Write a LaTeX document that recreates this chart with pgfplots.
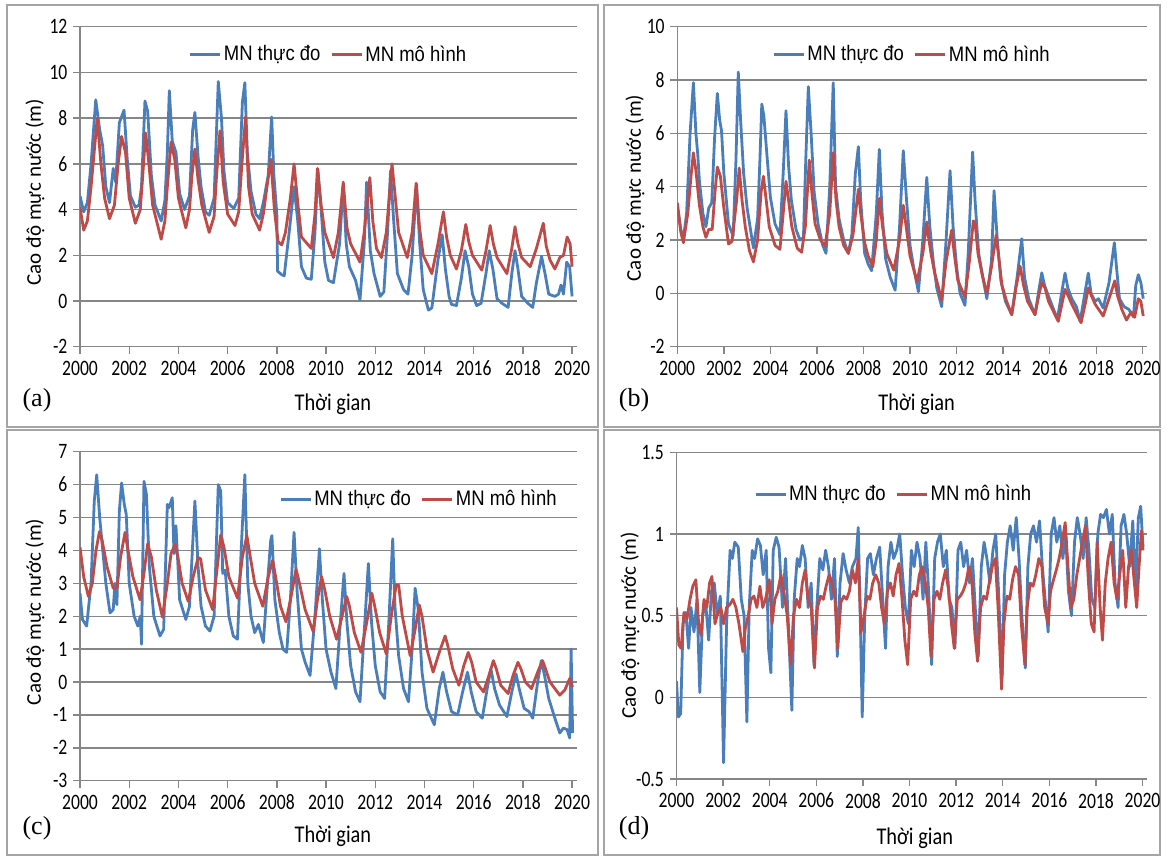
\documentclass[border=0pt]{standalone}
\usepackage{pgfplots}
\pgfplotsset{compat=1.18}
\usepackage{pgfplotstable}
\usepackage{fontspec}
\setmainfont{Carlito}
\newfontfamily\legfont{Liberation Sans}
\newfontfamily\tagfont{Liberation Serif}

\definecolor{mblue}{RGB}{74,126,187}
\definecolor{mred}{RGB}{190,75,72}
\definecolor{gridgray}{RGB}{134,134,134}
\definecolor{framegray}{RGB}{165,165,165}

% (a) station 1
\pgfplotstableread{
x y
2000.00 4.6
2000.15 3.9
2000.30 4.3
2000.45 6.0
2000.64 8.8
2000.80 7.5
2000.92 6.8
2001.05 5.0
2001.20 4.3
2001.35 5.8
2001.45 5.2
2001.60 7.8
2001.79 8.35
2001.92 6.2
2002.05 4.6
2002.25 4.1
2002.40 4.2
2002.50 5.0
2002.64 8.75
2002.75 8.3
2002.90 5.5
2003.05 4.2
2003.30 3.5
2003.45 4.4
2003.55 6.5
2003.63 9.2
2003.75 7.0
2003.90 6.5
2004.05 4.7
2004.25 4.0
2004.45 4.6
2004.58 7.5
2004.67 8.25
2004.80 6.3
2004.92 5.0
2005.10 3.9
2005.25 3.75
2005.45 4.5
2005.55 7.5
2005.62 9.6
2005.75 8.0
2005.85 5.7
2006.00 4.3
2006.25 4.05
2006.45 4.5
2006.60 8.7
2006.70 9.55
2006.80 6.5
2006.95 4.8
2007.15 3.8
2007.30 3.6
2007.45 4.3
2007.65 5.5
2007.79 8.05
2007.88 5.5
2008.00 3.8
2008.03 1.3
2008.20 1.15
2008.30 1.1
2008.50 3.0
2008.70 5.0
2008.85 3.5
2009.00 1.5
2009.20 1.0
2009.40 0.95
2009.55 3.0
2009.67 5.75
2009.80 4.0
2009.95 1.7
2010.10 0.9
2010.30 0.8
2010.55 2.5
2010.70 5.1
2010.82 2.5
2010.95 1.5
2011.20 0.9
2011.38 0.05
2011.55 2.5
2011.65 5.2
2011.80 2.2
2011.95 1.2
2012.20 0.2
2012.35 0.4
2012.50 3.0
2012.62 5.7
2012.75 3.5
2012.90 1.2
2013.15 0.5
2013.33 0.3
2013.50 2.0
2013.68 5.1
2013.80 2.6
2013.95 0.5
2014.16 -0.4
2014.30 -0.3
2014.55 1.8
2014.72 2.9
2014.85 1.4
2015.00 0.2
2015.10 -0.15
2015.30 -0.2
2015.50 1.0
2015.65 2.2
2015.80 1.5
2015.95 0.3
2016.12 -0.2
2016.30 -0.1
2016.50 1.2
2016.63 2.2
2016.78 1.4
2016.95 0.1
2017.15 -0.1
2017.40 -0.28
2017.55 1.2
2017.68 2.2
2017.80 1.4
2017.95 0.2
2018.20 -0.1
2018.40 -0.28
2018.55 0.8
2018.76 1.95
2018.90 1.2
2019.05 0.3
2019.30 0.2
2019.45 0.3
2019.55 0.7
2019.65 0.3
2019.78 1.7
2019.90 1.5
2020.00 0.2
}\obsA
\pgfplotstableread{
x y
2000.00 4.1
2000.15 3.1
2000.30 3.5
2000.45 5.0
2000.70 8.0
2000.85 6.0
2001.00 4.5
2001.20 3.6
2001.40 4.2
2001.55 6.0
2001.69 7.2
2001.85 6.5
2002.00 4.5
2002.25 3.4
2002.45 4.0
2002.55 5.5
2002.67 7.35
2002.80 6.0
2002.95 4.2
2003.30 2.7
2003.45 3.5
2003.55 5.0
2003.70 6.95
2003.85 6.2
2004.00 4.5
2004.30 3.2
2004.45 4.0
2004.55 5.5
2004.67 6.65
2004.80 5.3
2004.95 4.2
2005.25 3.0
2005.45 3.7
2005.55 5.5
2005.69 7.45
2005.82 5.2
2006.00 3.8
2006.30 3.3
2006.45 3.9
2006.58 6.0
2006.73 8.05
2006.85 5.0
2007.00 3.8
2007.30 3.1
2007.45 3.8
2007.60 5.0
2007.76 6.2
2007.90 4.0
2008.05 2.6
2008.20 2.45
2008.35 3.0
2008.55 4.5
2008.70 6.0
2008.85 4.3
2009.00 2.8
2009.40 2.3
2009.55 3.8
2009.65 5.8
2009.80 4.2
2009.95 3.0
2010.30 1.9
2010.50 3.0
2010.70 5.2
2010.85 3.2
2011.00 2.5
2011.38 1.7
2011.55 3.0
2011.78 5.4
2011.90 3.5
2012.05 2.3
2012.25 1.9
2012.45 3.0
2012.68 6.0
2012.80 4.7
2012.95 3.0
2013.30 1.9
2013.50 3.0
2013.66 5.15
2013.80 3.2
2013.95 2.0
2014.30 1.2
2014.55 2.5
2014.77 3.9
2014.90 2.8
2015.05 2.0
2015.30 1.4
2015.50 2.2
2015.68 3.35
2015.80 2.6
2015.95 2.0
2016.33 1.35
2016.50 2.2
2016.67 3.3
2016.80 2.5
2016.95 1.9
2017.35 1.2
2017.55 2.3
2017.68 3.25
2017.80 2.5
2017.95 1.9
2018.30 1.5
2018.55 2.3
2018.83 3.4
2018.95 2.4
2019.10 1.8
2019.30 1.4
2019.50 1.9
2019.65 2.0
2019.80 2.8
2019.92 2.5
2020.00 1.5
}\modA

% (b) station 2
\pgfplotstableread{
x y
2000.00 3.3
2000.15 2.4
2000.26 2.05
2000.40 3.0
2000.55 6.0
2000.69 7.9
2000.80 6.0
2000.88 5.2
2000.95 4.2
2001.10 3.0
2001.23 2.5
2001.35 3.2
2001.48 3.4
2001.60 5.8
2001.72 7.5
2001.82 6.5
2001.90 6.1
2002.00 4.5
2002.20 2.6
2002.40 2.15
2002.52 5.0
2002.62 8.3
2002.72 6.5
2002.85 4.5
2003.00 3.2
2003.27 1.7
2003.45 2.8
2003.55 5.0
2003.63 7.1
2003.72 6.65
2003.85 5.2
2004.00 3.6
2004.20 2.6
2004.41 2.2
2004.55 4.5
2004.67 6.85
2004.78 4.8
2004.90 3.5
2005.10 2.4
2005.27 2.0
2005.42 2.1
2005.52 5.0
2005.63 7.75
2005.75 6.0
2005.88 3.8
2006.05 2.6
2006.25 1.8
2006.39 1.5
2006.55 4.0
2006.70 7.9
2006.80 4.0
2006.95 2.8
2007.15 2.0
2007.35 1.5
2007.50 2.2
2007.65 4.5
2007.78 5.5
2007.88 3.5
2008.05 1.5
2008.20 1.1
2008.35 0.85
2008.55 3.0
2008.68 5.4
2008.80 3.0
2008.95 1.3
2009.15 0.6
2009.36 0.12
2009.55 2.5
2009.71 5.35
2009.85 3.5
2010.00 1.8
2010.15 1.0
2010.36 0.06
2010.55 2.0
2010.72 4.35
2010.85 2.5
2011.00 1.2
2011.15 0.2
2011.36 -0.5
2011.55 2.0
2011.72 4.6
2011.85 2.5
2012.00 1.0
2012.15 0.0
2012.36 -0.45
2012.50 1.5
2012.69 5.3
2012.80 3.4
2012.95 1.5
2013.15 0.5
2013.30 -0.2
2013.50 1.2
2013.61 3.85
2013.75 2.0
2013.90 0.5
2014.10 -0.3
2014.37 -0.8
2014.60 0.6
2014.80 2.05
2014.92 0.6
2015.10 -0.2
2015.37 -0.8
2015.55 0.2
2015.66 0.77
2015.78 0.3
2015.95 -0.1
2016.33 -0.97
2016.55 0.2
2016.66 0.76
2016.78 0.2
2016.95 -0.2
2017.15 -0.5
2017.31 -1.05
2017.55 0.2
2017.66 0.76
2017.78 0.0
2017.95 -0.3
2018.10 -0.2
2018.30 -0.55
2018.55 0.4
2018.78 1.9
2018.88 0.9
2019.00 -0.2
2019.20 -0.5
2019.40 -0.6
2019.60 -0.88
2019.70 0.3
2019.81 0.7
2019.92 0.4
2020.02 -0.2
}\obsB
\pgfplotstableread{
x y
2000.00 3.4
2000.15 2.3
2000.26 1.9
2000.45 3.0
2000.60 4.5
2000.69 5.27
2000.80 4.6
2000.95 3.3
2001.10 2.5
2001.23 2.1
2001.35 2.4
2001.50 2.4
2001.62 3.8
2001.72 4.74
2001.85 4.4
2002.00 3.2
2002.20 1.85
2002.35 1.95
2002.55 3.5
2002.66 4.7
2002.78 3.5
2002.92 2.5
2003.10 1.6
2003.27 1.18
2003.45 2.0
2003.60 3.8
2003.70 4.39
2003.82 3.5
2003.95 2.5
2004.20 1.8
2004.41 1.65
2004.55 3.0
2004.67 4.2
2004.78 3.5
2004.92 2.5
2005.15 1.7
2005.34 1.54
2005.50 2.5
2005.67 5.0
2005.78 3.8
2005.92 2.6
2006.15 2.0
2006.35 1.77
2006.55 3.0
2006.70 5.27
2006.82 3.5
2006.95 2.5
2007.15 1.8
2007.35 1.5
2007.55 2.2
2007.78 3.9
2007.88 3.0
2008.05 1.9
2008.20 1.4
2008.40 1.0
2008.55 2.0
2008.68 3.56
2008.82 2.5
2009.00 1.5
2009.30 0.87
2009.55 2.0
2009.71 3.3
2009.85 2.4
2010.00 1.4
2010.30 0.44
2010.55 1.5
2010.72 2.68
2010.78 2.2
2010.90 1.5
2011.05 0.8
2011.36 -0.25
2011.55 1.2
2011.79 2.37
2011.90 1.5
2012.05 0.5
2012.36 -0.15
2012.55 1.2
2012.72 2.72
2012.80 2.6
2012.92 1.5
2013.10 0.7
2013.30 0.0
2013.50 1.0
2013.70 2.18
2013.82 1.3
2013.95 0.3
2014.15 -0.3
2014.37 -0.8
2014.55 0.2
2014.73 1.02
2014.88 0.3
2015.05 -0.3
2015.37 -0.8
2015.55 0.0
2015.66 0.4
2015.80 0.2
2015.95 -0.3
2016.37 -1.05
2016.55 -0.3
2016.66 0.15
2016.80 -0.1
2016.95 -0.4
2017.35 -1.1
2017.55 -0.3
2017.66 0.2
2017.80 -0.1
2017.95 -0.4
2018.30 -0.85
2018.55 -0.2
2018.80 0.47
2018.92 -0.1
2019.10 -0.6
2019.30 -1.0
2019.50 -0.7
2019.65 -0.9
2019.81 -0.2
2019.92 -0.3
2020.02 -0.85
}\modB

% (c) station 3
\pgfplotstableread{
x y
2000.00 2.7
2000.10 1.9
2000.27 1.7
2000.45 3.0
2000.58 5.5
2000.68 6.3
2000.80 5.0
2000.90 4.2
2001.05 3.0
2001.22 2.1
2001.35 2.2
2001.42 3.0
2001.50 2.35
2001.60 5.2
2001.69 6.05
2001.80 5.4
2001.88 5.1
2002.00 3.0
2002.20 2.0
2002.35 1.7
2002.45 2.0
2002.50 1.15
2002.60 6.1
2002.70 5.7
2002.82 3.5
2003.00 2.0
2003.25 1.4
2003.40 1.6
2003.55 5.4
2003.62 5.3
2003.75 5.6
2003.82 3.9
2003.90 4.75
2004.05 2.5
2004.30 1.9
2004.45 2.3
2004.67 5.5
2004.80 3.5
2004.92 2.3
2005.10 1.7
2005.28 1.55
2005.45 2.0
2005.62 6.0
2005.72 5.8
2005.80 3.3
2005.90 3.4
2006.05 2.0
2006.23 1.4
2006.40 1.3
2006.55 4.0
2006.70 6.3
2006.82 3.0
2006.95 2.0
2007.10 1.5
2007.25 1.75
2007.45 1.2
2007.62 3.0
2007.75 4.3
2007.80 4.45
2007.92 2.5
2008.10 1.5
2008.25 1.0
2008.40 0.9
2008.55 2.5
2008.70 4.55
2008.82 2.8
2009.00 1.0
2009.15 0.6
2009.35 0.2
2009.55 2.0
2009.73 4.05
2009.85 2.5
2010.00 1.0
2010.20 0.3
2010.40 -0.2
2010.55 1.5
2010.73 3.3
2010.85 1.8
2011.00 0.5
2011.20 -0.3
2011.38 -0.6
2011.55 1.5
2011.72 3.6
2011.85 1.8
2012.00 0.5
2012.20 -0.3
2012.38 -0.5
2012.55 1.8
2012.71 4.35
2012.80 2.3
2012.95 0.8
2013.15 -0.2
2013.35 -0.6
2013.50 1.0
2013.62 2.85
2013.75 2.2
2013.90 0.3
2014.10 -0.8
2014.40 -1.3
2014.60 -0.2
2014.75 0.3
2014.90 -0.3
2015.10 -0.9
2015.35 -1.0
2015.55 -0.3
2015.75 0.3
2015.90 -0.3
2016.10 -0.9
2016.35 -1.1
2016.55 -0.2
2016.70 0.4
2016.85 -0.2
2017.05 -0.7
2017.35 -1.05
2017.55 -0.3
2017.72 0.25
2017.85 -0.2
2018.05 -0.8
2018.25 -0.9
2018.40 -1.1
2018.60 0.0
2018.75 0.65
2018.88 0.2
2019.05 -0.5
2019.30 -1.1
2019.50 -1.55
2019.65 -1.4
2019.80 -1.45
2019.90 -1.7
2019.96 1.0
2020.02 -1.55
}\obsC
\pgfplotstableread{
x y
2000.00 4.1
2000.15 3.2
2000.34 2.6
2000.50 3.0
2000.65 4.0
2000.79 4.57
2000.90 4.3
2001.10 3.5
2001.35 2.85
2001.50 2.85
2001.65 3.8
2001.83 4.55
2001.95 4.0
2002.15 3.2
2002.44 2.5
2002.60 3.3
2002.75 4.2
2002.90 3.8
2003.10 2.8
2003.35 1.97
2003.55 3.0
2003.70 3.9
2003.86 4.18
2003.98 3.8
2004.15 3.0
2004.40 2.45
2004.60 3.2
2004.80 3.78
2004.90 3.75
2005.10 2.8
2005.39 2.2
2005.55 3.3
2005.72 4.47
2005.85 4.1
2006.05 3.2
2006.40 2.55
2006.60 3.8
2006.78 4.45
2006.90 3.9
2007.10 3.0
2007.43 2.3
2007.65 3.2
2007.83 3.7
2007.95 3.2
2008.15 2.3
2008.37 1.83
2008.58 2.6
2008.78 3.43
2008.92 3.0
2009.15 2.2
2009.48 1.53
2009.65 2.5
2009.82 3.2
2009.95 2.8
2010.15 2.0
2010.43 1.3
2010.65 2.0
2010.84 2.6
2010.95 2.3
2011.15 1.5
2011.42 0.9
2011.65 1.8
2011.86 2.7
2011.98 2.3
2012.18 1.5
2012.45 0.85
2012.65 2.0
2012.85 2.95
2012.95 2.95
2013.10 2.0
2013.42 0.8
2013.62 1.6
2013.79 2.34
2013.90 2.0
2014.10 1.0
2014.35 0.3
2014.60 0.9
2014.84 1.4
2014.95 1.1
2015.15 0.4
2015.40 -0.1
2015.60 0.5
2015.78 0.9
2015.92 0.6
2016.10 0.0
2016.40 -0.3
2016.62 0.2
2016.80 0.65
2016.92 0.4
2017.10 -0.1
2017.40 -0.35
2017.60 0.2
2017.80 0.6
2017.92 0.4
2018.10 0.0
2018.35 -0.2
2018.60 0.3
2018.80 0.65
2018.92 0.4
2019.10 0.0
2019.50 -0.4
2019.70 -0.25
2019.90 0.1
2020.02 -0.15
}\modC

% (d) station 4
\pgfplotstableread{
x y
2000.00 0.10
2000.08 -0.12
2000.18 -0.10
2000.28 0.45
2000.40 0.52
2000.52 0.30
2000.62 0.55
2000.75 0.40
2000.88 0.60
2001.00 0.03
2001.12 0.50
2001.25 0.58
2001.38 0.35
2001.50 0.65
2001.62 0.70
2001.75 0.50
2001.88 0.62
2002.02 -0.40
2002.15 0.45
2002.30 0.90
2002.40 0.85
2002.50 0.95
2002.65 0.92
2002.78 0.60
2002.90 0.50
2003.02 -0.15
2003.12 0.55
2003.25 0.90
2003.35 0.85
2003.48 0.97
2003.60 0.93
2003.72 0.75
2003.85 0.90
2003.95 0.30
2004.05 0.15
2004.15 0.90
2004.28 0.98
2004.40 0.92
2004.55 0.55
2004.68 0.85
2004.80 0.45
2004.95 -0.08
2005.05 0.60
2005.18 0.85
2005.28 0.80
2005.40 0.93
2005.52 0.85
2005.65 0.55
2005.78 0.70
2005.90 0.20
2006.02 0.55
2006.15 0.85
2006.28 0.78
2006.40 0.90
2006.52 0.80
2006.65 0.60
2006.78 0.85
2006.90 0.25
2007.02 0.70
2007.15 0.88
2007.28 0.78
2007.42 0.70
2007.55 0.80
2007.70 0.85
2007.80 1.04
2007.90 0.40
2007.97 -0.12
2008.08 0.50
2008.20 0.85
2008.32 0.88
2008.45 0.75
2008.58 0.85
2008.72 0.92
2008.85 0.60
2008.97 0.30
2009.08 0.80
2009.20 0.95
2009.32 0.85
2009.45 0.90
2009.58 1.00
2009.70 0.75
2009.82 0.55
2009.95 0.45
2010.08 0.90
2010.20 0.80
2010.32 0.95
2010.45 0.85
2010.58 0.60
2010.70 0.95
2010.82 0.65
2010.95 0.20
2011.08 0.85
2011.20 0.95
2011.32 1.00
2011.45 0.80
2011.58 0.90
2011.70 0.60
2011.82 0.55
2011.95 0.30
2012.08 0.90
2012.20 0.95
2012.32 0.80
2012.45 0.90
2012.58 0.70
2012.70 0.85
2012.82 0.55
2012.95 0.25
2013.08 0.80
2013.20 0.95
2013.32 0.85
2013.45 0.70
2013.58 0.90
2013.70 1.00
2013.82 0.65
2013.97 0.12
2014.08 0.75
2014.20 0.95
2014.32 1.05
2014.45 0.90
2014.58 1.10
2014.70 0.85
2014.82 0.50
2014.97 0.18
2015.08 0.80
2015.20 1.00
2015.32 1.05
2015.45 0.95
2015.58 1.08
2015.70 0.80
2015.82 0.60
2015.95 0.40
2016.08 1.00
2016.20 1.10
2016.32 0.95
2016.45 1.05
2016.58 0.85
2016.70 1.00
2016.82 0.65
2016.95 0.50
2017.08 0.95
2017.20 1.10
2017.32 1.00
2017.45 0.85
2017.58 1.10
2017.70 0.90
2017.82 0.60
2017.95 0.55
2018.08 1.00
2018.20 1.12
2018.32 1.10
2018.45 1.15
2018.58 1.00
2018.70 1.12
2018.82 0.70
2018.95 0.55
2019.08 1.05
2019.20 1.12
2019.32 1.00
2019.45 0.80
2019.58 1.08
2019.70 0.65
2019.82 1.10
2019.92 1.17
2020.02 0.92
}\obsD
\pgfplotstableread{
x y
2000.00 0.55
2000.10 0.32
2000.20 0.30
2000.32 0.52
2000.45 0.48
2000.58 0.60
2000.70 0.68
2000.83 0.72
2000.95 0.45
2001.05 0.38
2001.18 0.60
2001.30 0.55
2001.42 0.70
2001.52 0.74
2001.65 0.45
2001.78 0.52
2001.90 0.55
2002.02 0.45
2002.15 0.55
2002.30 0.57
2002.42 0.60
2002.55 0.55
2002.68 0.45
2002.85 0.28
2002.95 0.42
2003.08 0.50
2003.20 0.60
2003.32 0.62
2003.45 0.55
2003.58 0.68
2003.70 0.55
2003.82 0.60
2003.98 0.72
2004.10 0.45
2004.22 0.60
2004.35 0.65
2004.48 0.75
2004.60 0.65
2004.75 0.50
2004.90 0.20
2005.02 0.50
2005.15 0.60
2005.28 0.55
2005.40 0.70
2005.52 0.78
2005.65 0.60
2005.78 0.55
2005.92 0.18
2006.05 0.55
2006.18 0.62
2006.30 0.60
2006.42 0.68
2006.55 0.75
2006.68 0.70
2006.80 0.60
2006.92 0.30
2007.05 0.58
2007.18 0.62
2007.30 0.60
2007.42 0.65
2007.55 0.78
2007.68 0.70
2007.80 0.85
2007.92 0.40
2008.05 0.50
2008.18 0.62
2008.30 0.60
2008.42 0.70
2008.55 0.75
2008.68 0.70
2008.80 0.55
2008.92 0.45
2009.05 0.65
2009.18 0.70
2009.30 0.62
2009.42 0.75
2009.55 0.82
2009.68 0.60
2009.80 0.35
2009.92 0.20
2010.05 0.60
2010.18 0.65
2010.30 0.62
2010.42 0.75
2010.55 0.80
2010.68 0.70
2010.80 0.55
2010.92 0.25
2011.05 0.60
2011.18 0.65
2011.30 0.60
2011.42 0.70
2011.55 0.78
2011.68 0.65
2011.80 0.45
2011.92 0.30
2012.05 0.60
2012.18 0.62
2012.30 0.65
2012.42 0.70
2012.55 0.80
2012.68 0.70
2012.80 0.40
2012.92 0.22
2013.05 0.55
2013.18 0.62
2013.30 0.60
2013.42 0.70
2013.55 0.80
2013.68 0.85
2013.80 0.55
2013.95 0.05
2014.05 0.45
2014.18 0.62
2014.30 0.60
2014.42 0.72
2014.55 0.80
2014.68 0.75
2014.80 0.45
2014.95 0.20
2015.05 0.55
2015.18 0.70
2015.30 0.68
2015.42 0.75
2015.55 0.85
2015.68 0.80
2015.80 0.55
2015.95 0.45
2016.05 0.65
2016.18 0.72
2016.30 0.78
2016.42 0.85
2016.55 0.95
2016.68 1.07
2016.80 0.80
2016.92 0.55
2017.05 0.60
2017.18 0.75
2017.30 0.85
2017.42 0.95
2017.55 1.05
2017.68 0.70
2017.80 0.45
2017.92 0.40
2018.05 0.95
2018.18 0.55
2018.28 0.35
2018.40 0.70
2018.52 0.85
2018.65 0.95
2018.78 0.70
2018.90 0.60
2019.02 0.75
2019.15 0.90
2019.28 0.55
2019.40 0.80
2019.52 0.90
2019.65 0.70
2019.75 0.55
2019.85 0.80
2019.95 1.02
2020.02 0.90
}\modD

\pgfplotsset{
  panel/.style={
    scale only axis,
    axis x line=bottom, axis y line=left,
    axis line style={draw=gridgray, line width=0.7pt, -},
    xmin=2000,
    xtick={2000,2002,...,2020},
    ymajorgrids, grid style={draw=gridgray, line width=0.7pt},
    tick align=outside, major tick length=3.5pt,
    tick style={draw=gridgray, line width=0.7pt},
    /pgf/number format/assume math mode=true,
    /pgf/number format/1000 sep={},
    tick label style={font=\fontsize{11}{12}\selectfont, xscale=0.8},
    legend style={draw=none, fill=none, anchor=center,
      font=\legfont\fontsize{10.5}{12}\selectfont,
      nodes={inner xsep=1pt},
      /tikz/every even column/.append style={column sep=4pt}},
    legend columns=-1,
    legend image code/.code={\draw[##1, line width=1.5pt] (0pt,0pt) -- (15pt,0pt);},
    xlabel style={font=\fontsize{12}{14}\selectfont, anchor=center},
    ylabel style={font=\fontsize{10.5}{12}\selectfont, anchor=center},
    every axis plot/.append style={line width=1.4pt, line join=round},
  },
}

\begin{document}
\begin{tikzpicture}
\useasboundingbox (0,0) rectangle (583.5pt,429.5pt);
\draw[framegray, line width=0.75pt] (3.5pt,216pt) rectangle (299pt,427pt);
\draw[framegray, line width=0.75pt] (302pt,216pt) rectangle (580pt,427pt);
\draw[framegray, line width=0.75pt] (3.5pt,2pt) rectangle (299pt,214.5pt);
\draw[framegray, line width=0.75pt] (302pt,2pt) rectangle (580pt,214.5pt);

% (a)
\begin{axis}[panel, at={(40pt,256.15pt)}, anchor=south west,
  width=248.5pt, height=160pt,
  xmax=2020.2, ymin=-2, ymax=12, ytick distance=2,
  xlabel={Thời gian}, ylabel={Cao độ mực nước (m)},
  xlabel style={at={(axis description cs:0.509,-0.179)}, xscale=0.85},
  ylabel style={at={(axis description cs:-0.0905,0.483)}},
  legend style={at={(0.5,0.912)}}]
\addplot[mblue] table {\obsA};
\addlegendentry{\scalebox{0.88}[1]{MN thực đo}}
\addplot[mred] table {\modA};
\addlegendentry{\scalebox{0.88}[1]{MN mô hình}}
\end{axis}

% (b)
\begin{axis}[panel, at={(338.65pt,256.15pt)}, anchor=south west,
  width=234.7pt, height=160pt,
  xmax=2020.17, ymin=-2, ymax=10, ytick distance=2,
  xlabel={Thời gian}, ylabel={Cao độ mực nước (m)},
  xlabel style={at={(axis description cs:0.51,-0.179)}, xscale=0.85},
  ylabel style={at={(axis description cs:-0.09,0.496)}},
  legend style={at={(0.5,0.912)}}]
\addplot[mblue] table {\obsB};
\addlegendentry{\scalebox{0.88}[1]{MN thực đo}}
\addplot[mred] table {\modB};
\addlegendentry{\scalebox{0.88}[1]{MN mô hình}}
\end{axis}

% (c)
\begin{axis}[panel, at={(40pt,39.15pt)}, anchor=south west,
  width=248.5pt, height=164.5pt,
  xmax=2020.2, ymin=-3, ymax=7, ytick distance=1,
  xlabel={Thời gian}, ylabel={Cao độ mực nước (m)},
  xlabel style={at={(axis description cs:0.509,-0.168)}, xscale=0.85},
  ylabel style={at={(axis description cs:-0.0905,0.513)}},
  legend style={at={(0.682,0.856)}}]
\addplot[mblue] table {\obsC};
\addlegendentry{\scalebox{0.88}[1]{MN thực đo}}
\addplot[mred] table {\modC};
\addlegendentry{\scalebox{0.88}[1]{MN mô hình}}
\end{axis}

% (d)
\begin{axis}[panel, at={(338.25pt,40pt)}, anchor=south west,
  width=235pt, height=163.35pt,
  xmax=2020.17, ymin=-0.5, ymax=1.5, ytick distance=0.5,
  xlabel={Thời gian}, ylabel={Cao độ mực nước (m)},
  xlabel style={at={(axis description cs:0.507,-0.18)}, xscale=0.85},
  ylabel style={at={(axis description cs:-0.099,0.471)}},
  legend style={at={(0.462,0.872)}}]
\addplot[mblue] table {\obsD};
\addlegendentry{\scalebox{0.88}[1]{MN thực đo}}
\addplot[mred] table {\modD};
\addlegendentry{\scalebox{0.88}[1]{MN mô hình}}
\end{axis}

\node[font=\tagfont\fontsize{13}{14}\selectfont] at (18.5pt,229.2pt) {(a)};
\node[font=\tagfont\fontsize{13}{14}\selectfont] at (317pt,229.2pt) {(b)};
\node[font=\tagfont\fontsize{13}{14}\selectfont] at (18.5pt,15.5pt) {(c)};
\node[font=\tagfont\fontsize{13}{14}\selectfont] at (317pt,15.5pt) {(d)};
\end{tikzpicture}
\end{document}
